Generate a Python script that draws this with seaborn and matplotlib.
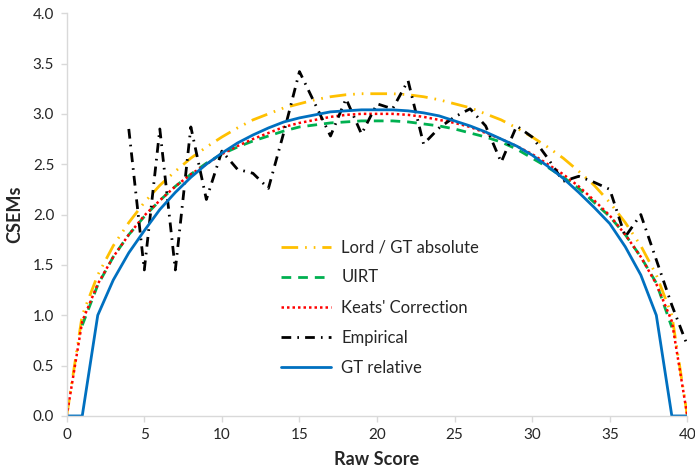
import matplotlib
matplotlib.use('Agg')
import matplotlib.pyplot as plt
import seaborn as sns
import pandas as pd

# raw scores
score = list(range(0, 41))

lord_gt_abs = [0.00, 1.00, 1.40, 1.69, 1.92, 2.12, 2.29, 2.43, 2.56, 2.67,
               2.77, 2.86, 2.94, 3.00, 3.06, 3.10, 3.14, 3.17, 3.19, 3.20,
               3.20, 3.20, 3.19, 3.17, 3.14, 3.10, 3.06, 3.00, 2.94, 2.86,
               2.77, 2.67, 2.56, 2.43, 2.29, 2.12, 1.92, 1.69, 1.40, 1.00, 0.00]

uirt_score = list(range(1, 40))
uirt = [0.90, 1.30, 1.58, 1.80, 1.98, 2.14, 2.28, 2.40, 2.51,
        2.60, 2.67, 2.73, 2.78, 2.83, 2.87, 2.89, 2.91, 2.92, 2.93,
        2.93, 2.93, 2.92, 2.90, 2.88, 2.85, 2.81, 2.77, 2.72, 2.65,
        2.56, 2.47, 2.37, 2.26, 2.12, 1.98, 1.80, 1.58, 1.32, 0.88]

keats = [0.00, 0.94, 1.31, 1.58, 1.80, 1.99, 2.14, 2.28, 2.40, 2.50,
         2.60, 2.68, 2.75, 2.81, 2.87, 2.91, 2.94, 2.97, 2.99, 3.00,
         3.00, 3.00, 2.99, 2.97, 2.94, 2.91, 2.87, 2.81, 2.75, 2.68,
         2.60, 2.50, 2.40, 2.28, 2.14, 1.99, 1.80, 1.58, 1.31, 0.94, 0.00]

emp_score = list(range(4, 41))
empirical = [2.85, 1.45, 2.85, 1.45, 2.87, 2.15,
             2.63, 2.45, 2.41, 2.26, 2.82, 3.42, 3.10, 2.78, 3.15, 2.80,
             3.10, 3.05, 3.33, 2.70, 2.86, 2.97, 3.05, 2.88, 2.52, 2.88,
             2.77, 2.56, 2.33, 2.38, 2.32, 2.25, 1.78, 2.00, 1.55, 1.10, 0.70]

gt_rel = [0.00, 0.00, 1.00, 1.35, 1.62, 1.84, 2.05, 2.22, 2.37, 2.50,
          2.61, 2.71, 2.79, 2.86, 2.92, 2.96, 2.99, 3.02, 3.03, 3.04,
          3.04, 3.04, 3.03, 3.01, 2.98, 2.93, 2.88, 2.82, 2.75, 2.68,
          2.59, 2.48, 2.36, 2.22, 2.07, 1.91, 1.68, 1.40, 1.00, 0.00, 0.00]

sns.set_style('white')
plt.rcParams['font.family'] = ['Lato', 'DejaVu Sans']

fig = plt.figure(figsize=(6.95, 4.70), dpi=100)
ax = fig.add_axes([0.096, 0.115, 0.893, 0.857])

sns.lineplot(x=score, y=lord_gt_abs, ax=ax, color='#FFC000', linewidth=2,
             linestyle=(0, (6, 2.5, 0.6, 2.5, 0.6, 2.5)), label='Lord / GT absolute')
sns.lineplot(x=uirt_score, y=uirt, ax=ax, color='#00B050', linewidth=2,
             linestyle=(0, (3.5, 2.5)), label='UIRT')
sns.lineplot(x=score, y=keats, ax=ax, color='#FF0000', linewidth=1.8,
             linestyle=(0, (1, 1.2)), label="Keats' Correction")
sns.lineplot(x=emp_score, y=empirical, ax=ax, color='black', linewidth=2,
             linestyle=(0, (3.5, 2.2, 0.6, 2.2)), label='Empirical')
sns.lineplot(x=score, y=gt_rel, ax=ax, color='#0070C0', linewidth=2,
             label='GT relative')

ax.set_xlim(0, 40)
ax.set_ylim(0, 4.0)
ax.set_xticks(range(0, 41, 5))
ax.set_yticks([i * 0.5 for i in range(9)])
ax.set_yticklabels([f'{i * 0.5:.1f}' for i in range(9)])

for side in ['top', 'right']:
    ax.spines[side].set_visible(False)
for side in ['left', 'bottom']:
    ax.spines[side].set_color('#D9D9D9')
    ax.spines[side].set_linewidth(1)

ax.tick_params(axis='both', which='major', length=4, width=1, color='#D9D9D9',
               labelsize=11, labelcolor='#262626', direction='out', pad=5,
               left=True, bottom=True)

ax.set_xlabel('Raw Score', fontsize=13, fontweight='bold', labelpad=6)
ax.set_ylabel('CSEMs', fontsize=13, fontweight='bold', labelpad=7)

ax.legend(loc='upper left', bbox_to_anchor=(0.393, 1 - 231 / 470),
          bbox_transform=fig.transFigure, frameon=False, fontsize=12,
          handlelength=3.0, handletextpad=0.6, labelspacing=0.85, borderpad=0)

fig.savefig('out.png', dpi=100)
